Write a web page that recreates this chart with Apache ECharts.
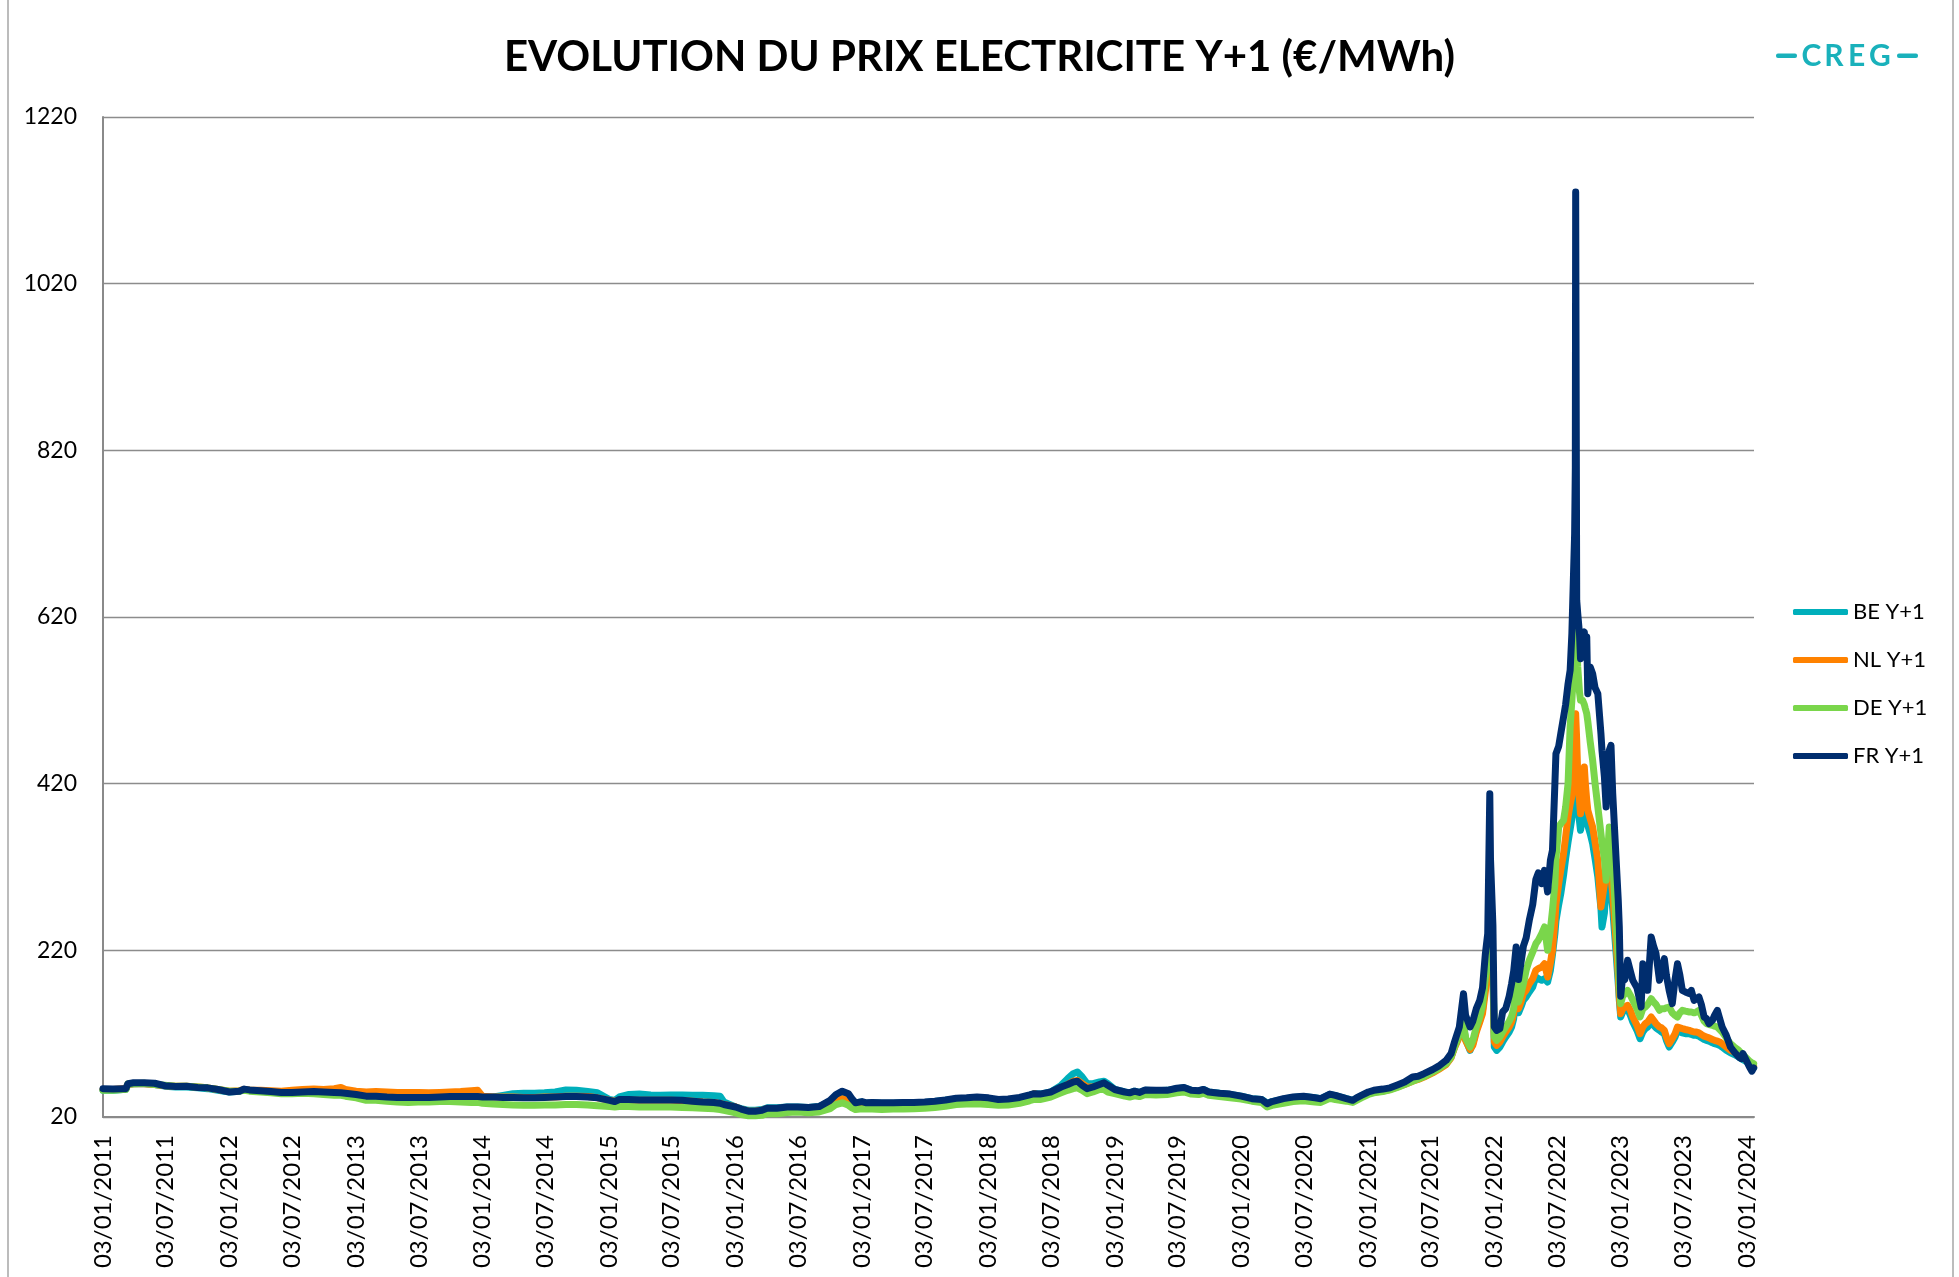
<!DOCTYPE html>
<html><head><meta charset="utf-8">
<script src="https://cdn.jsdelivr.net/npm/echarts@6/dist/echarts.min.js"></script>
<style>html,body{margin:0;padding:0;background:#fff}#c{width:1959px;height:1277px}</style>
</head><body><div id="c"></div><script>
// ---- Data ----
const titleText = 'EVOLUTION DU PRIX ELECTRICITE Y+1 (€/MWh)';
const seriesNames = ['BE Y+1', 'NL Y+1', 'DE Y+1', 'FR Y+1'];
const yTicks = [20, 220, 420, 620, 820, 1020, 1220];
const xTickLabels = ['03/01/2011','03/07/2011','03/01/2012','03/07/2012','03/01/2013','03/07/2013','03/01/2014','03/07/2014','03/01/2015','03/07/2015','03/01/2016','03/07/2016','03/01/2017','03/07/2017','03/01/2018','03/07/2018','03/01/2019','03/07/2019','03/01/2020','03/07/2020','03/01/2021','03/07/2021','03/01/2022','03/07/2022','03/01/2023','03/07/2023','03/01/2024'];

const dates = [
'2011-01-03','2011-02-01','2011-03-01','2011-03-10','2011-03-16','2011-04-01','2011-05-02','2011-06-01','2011-07-01','2011-08-01','2011-09-01','2011-10-03','2011-11-01','2011-12-01',
'2012-01-03','2012-02-01','2012-02-15','2012-03-01','2012-04-02','2012-05-02','2012-06-01','2012-07-02','2012-08-01','2012-09-03','2012-10-01','2012-11-01','2012-11-20','2012-12-03',
'2013-01-03','2013-02-01','2013-03-01','2013-04-02','2013-05-02','2013-06-03','2013-07-01','2013-08-01','2013-09-02','2013-10-01','2013-11-01','2013-12-02','2013-12-20',
'2014-01-03','2014-02-03','2014-03-03','2014-04-01','2014-05-02','2014-06-02','2014-07-01','2014-08-01','2014-09-01','2014-10-01','2014-11-03','2014-12-01',
'2015-01-05','2015-01-20','2015-02-02','2015-03-02','2015-04-01','2015-05-04','2015-06-01','2015-07-01','2015-08-03','2015-09-01','2015-10-01','2015-11-02','2015-11-20','2015-12-01',
'2016-01-04','2016-01-20','2016-02-10','2016-03-01','2016-03-20','2016-04-04','2016-05-02','2016-06-01','2016-07-01','2016-08-01','2016-09-01','2016-10-03','2016-10-20','2016-11-07','2016-11-25','2016-12-05','2016-12-15',
'2017-01-03','2017-01-16','2017-02-01','2017-03-01','2017-04-03','2017-05-02','2017-06-01','2017-07-03','2017-08-01','2017-09-01','2017-10-02','2017-11-01','2017-12-01',
'2018-01-03','2018-02-01','2018-03-01','2018-04-03','2018-05-02','2018-05-15','2018-06-01','2018-07-02','2018-08-01','2018-08-20','2018-09-05','2018-09-17','2018-10-01','2018-10-15','2018-11-01','2018-11-20','2018-12-03','2018-12-14',
'2019-01-03','2019-02-01','2019-02-15','2019-03-01','2019-03-15','2019-04-01','2019-05-02','2019-06-03','2019-07-01','2019-07-22','2019-08-12','2019-09-02','2019-09-16','2019-10-01','2019-11-01','2019-12-02',
'2020-01-03','2020-02-03','2020-03-02','2020-03-18','2020-04-01','2020-05-04','2020-06-01','2020-07-01','2020-08-03','2020-08-20','2020-09-15','2020-10-01','2020-11-02','2020-11-20','2020-12-01','2020-12-15',
'2021-01-04','2021-01-20','2021-02-15','2021-03-08','2021-03-29','2021-04-19','2021-05-12','2021-05-28','2021-06-14','2021-07-09','2021-07-26','2021-08-17','2021-08-31','2021-09-10','2021-09-24','2021-10-06','2021-10-12','2021-10-25','2021-11-02','2021-11-12','2021-11-22','2021-11-30','2021-12-08','2021-12-15','2021-12-21','2021-12-23','2021-12-30',
'2022-01-03','2022-01-10','2022-01-19','2022-01-27','2022-02-05','2022-02-15','2022-02-22','2022-02-28','2022-03-07','2022-03-14','2022-03-21','2022-03-28','2022-04-05','2022-04-14','2022-04-24','2022-05-03','2022-05-10','2022-05-20','2022-05-28','2022-06-06','2022-06-14','2022-06-20','2022-06-27','2022-06-30','2022-07-08','2022-07-14','2022-07-22','2022-07-28','2022-08-04','2022-08-10','2022-08-15','2022-08-19','2022-08-23','2022-08-25','2022-08-26','2022-08-29','2022-09-01','2022-09-06','2022-09-09','2022-09-15','2022-09-20','2022-09-23','2022-09-27','2022-09-30','2022-10-07','2022-10-14','2022-10-21','2022-10-29','2022-11-07','2022-11-10','2022-11-17','2022-11-22','2022-11-27','2022-12-01','2022-12-06','2022-12-11','2022-12-21','2022-12-27','2022-12-30',
'2023-01-03','2023-01-09','2023-01-15','2023-01-23','2023-01-31','2023-02-07','2023-02-19','2023-02-28','2023-03-03','2023-03-08','2023-03-15','2023-03-22','2023-04-01','2023-04-08','2023-04-15','2023-04-25','2023-05-01','2023-05-09','2023-05-15','2023-05-23','2023-06-01','2023-06-09','2023-06-16','2023-06-23','2023-06-30','2023-07-09','2023-07-20','2023-07-26','2023-08-03','2023-08-10','2023-08-17','2023-08-24','2023-09-01','2023-09-08','2023-09-15','2023-09-25','2023-10-01','2023-10-09','2023-10-16','2023-10-23','2023-11-04','2023-11-16','2023-11-27','2023-12-10','2023-12-17','2023-12-22','2024-01-03','2024-01-10','2024-01-17','2024-01-22'
];

const beY1 = [
52,52,53,53,59,60,60,59,57,56,56,55,54,52,
50,51,53,52,51,50,49,49.5,50,50.5,50,49.5,49,48.5,
47,45.5,45,44,43.5,43.5,43.5,43.5,44,44.5,44.5,44.5,44.5,
44,44,46,48,48.5,48.5,49,50,52.5,52,50.5,49,
41,40,44,47,47.5,46.5,46,46.5,46.5,46,46,45.5,45,38,
32,30,28,28,29,31,31,32,32,31.5,32.5,38,44,47,44,40,37,
38,36.5,37,36.5,36.5,37,37,37.5,38.5,40,41.5,42,42.5,
42,40,40.5,42.5,46,48,47.5,50,58,66,72,74,68,60,60,62,63,60,
53,50,49,51,49.5,52,51.5,52,54,55,52,51,53,50,48.5,47,
45,42,41,36.5,38.5,41.5,43.5,44.5,43,42,47,45.5,42,40,42.5,45.5,
49,51,52,54,57,60,64,66,69,74,78,84,92,104,118,130,113,100,108,124,136,148,178,205,228,220,200,
104,100,104,110,116,122,128,138,172,145,152,160,164,170,176,188,186,184,186,182,196,215,240,255,275,288,310,330,350,365,378,388,430,460,480,440,400,375,364,380,390,392,380,370,360,348,330,308,270,248,265,296,298,300,290,270,215,180,160,
140,146,148,150,142,134,124,114,116,122,126,128,134,130,127,124,122,120,112,104,110,116,124,122,121,120,120,119,118,118,117,115,113,112,111,109,108,107,106,104,100,97,95,92,90,90,86,82,78,79
];

const nlY1 = [
53,53,54,54,59,60,60,59,57.5,57,57,56,55,53,
51,51.5,53,52.5,52,51.5,51,52,53,53.5,53,54,55.5,53,
51,50,50.5,50,49.5,49.5,49.5,49,49.5,50,50.5,51.5,52,
45,44,44,44,43.5,43.5,44,44,45,45,44.5,43,
40,39,40,40,40,40,40,40,39.5,39,38,37.5,36,35,
32,29,27,27,28,30,30,31,31.5,31,31.5,36,40,42,40,36,34,
34.5,33.5,34,33.5,34,34,34.5,35,36,37.5,39,39.5,40,
39.5,38,38.5,40.5,44,48,45.5,48,54,59,63,64,60,56,56,58,59,56,
51,48,47.5,49,48,50.5,50,50.5,52.5,53.5,51,50,52,49,47.5,46,
44,41,40,35,37,39.5,41,42,40.5,39.5,44.5,43,40.5,39,41.5,44.5,
48,50,51,53,56,59,63,65,68,73,77,83,91,103,116,128,112,101,106,122,134,144,170,196,218,210,190,
110,106,110,116,122,128,134,144,176,150,158,168,172,180,186,196,198,200,204,188,205,220,255,275,300,316,336,356,380,395,405,416,460,490,504,472,430,400,384,420,440,420,400,388,378,368,350,328,272,280,300,316,318,320,308,288,228,190,165,
144,150,152,154,148,140,130,120,122,128,132,134,140,136,132,128,127,124,116,108,114,120,128,127,126,125,124,123,122,122,121,119,117,116,115,113,112,111,110,108,104,100,98,94,92,92,88,84,80,81
];

const deY1 = [
52,52,53,53,60,60,60.5,59,58,57,57,56,55,53,
51,51,52,51,50,49,48,48,48.5,48,47,46,46,45,
43,40,40,39,38,37.5,38,38,38.5,38.5,38,37.5,37.5,
36.5,35.5,35,34.5,34,34,34.5,34.5,35,35,34.5,33.5,
32.5,32,32.5,32.5,32,32,32,32,31.5,31,30.5,30,29,28,
25,23,21.5,21.5,22,24,24,25.5,26,25,26,30,35,37,34,31,29,
30,29.5,29.5,29,29.5,29.5,30,30.5,31.5,33,35,35.5,36,
35,34,34.5,36.5,39.5,41,41,44,49,52,54,55,52,48,50,53,53,50,
48,45,44,45.5,44.5,47,46.5,47,49,50,47.5,47,48.5,46,44.5,43,
41.5,39,37.5,32,34,36.5,38.5,39.5,38,37.5,42.5,41,39,37.5,40,43,
47,49,50.5,52.5,55.5,59,63,65.5,68.5,74,78,84,92,104,119,132,115,104,112,128,140,154,186,212,235,226,205,
116,112,116,122,128,135,141,150,184,158,168,180,196,208,218,228,232,240,248,220,245,268,300,330,368,372,376,392,420,488,520,548,580,600,610,590,560,530,520,520,515,510,504,495,470,448,420,392,360,349,330,304,340,368,360,328,248,210,180,
156,165,168,172,166,160,150,140,142,150,152,155,162,158,155,148,150,150,151,152,145,142,140,145,148,147,146,146,145,146,148,142,135,132,131,130,129,128,125,122,115,108,104,100,97,97,90,87,85,84
];

const frY1 = [
54,53.5,54,54,60,61,61,60.5,57.5,56.5,57,55.5,55,53,
50,51,53.5,52.5,51.5,50.5,49.5,49.5,50,50.5,50,49.5,49,48.5,
47,45,45,44,43.5,43.5,43.5,43.5,44,44.5,44.5,44.5,44.5,
44,44,43.5,43.5,43,43,43.5,44,44.5,44.5,44,43,
40,38.5,41,41,40.5,40.5,40.5,40.5,40,39,38,37.5,36.5,35,
32,29.5,27,27,28,30.5,30.5,32,32,31.5,32.5,40,47,51,48,42,37,
38.5,37,37.5,37,37,37.5,37.5,38,39,40.5,42.5,43,44,
43,41,41.5,43.5,46.5,48,47.5,50,56,59,62,63,58,54,56,59,61,58,
53,50,49,51,49.5,52.5,52,52,54.5,55.5,52,51.5,53,50,48.5,47.5,
45,42,41,36,38.5,42,44,45,43,42,47.5,46,42,40,43,46,
50,52,53.5,55,58.5,62,68,69,72,77,81,88,96,110,128,168,142,128,135,150,160,175,215,240,408,330,250,
128,124,126,146,150,165,180,195,224,185,205,225,235,256,275,305,313,300,316,290,328,340,420,456,465,480,500,515,540,556,600,660,720,800,1130,640,624,600,570,598,602,580,596,528,560,552,535,528,480,460,428,392,452,460,466,408,328,280,248,
165,190,185,208,195,184,175,158,152,204,190,172,236,225,216,184,195,210,190,172,156,185,204,190,172,170,168,172,160,162,164,155,140,138,132,136,142,148,138,128,118,104,98,92,90,96,86,80,75,79
];

// ---- Chart ----
const seriesValues = [beY1, nlY1, deY1, frY1];
const seriesColors = ['#00AFBB', '#FF8200', '#7AD64B', '#002D6E'];
const FONT = 'Lato, "Liberation Sans", sans-serif';
const pad = n => (n < 10 ? '0' : '') + n;
const parseDMY = s => { const p = s.split('/').map(Number); return new Date(p[2], p[1] - 1, p[0]).getTime(); };
const parseISO = s => { const p = s.split('-').map(Number); return new Date(p[0], p[1] - 1, p[2]).getTime(); };
const xTickValues = xTickLabels.map(parseDMY);
const dateStamps = dates.map(parseISO);

const chart = echarts.init(document.getElementById('c'), null, { renderer: 'canvas' });
chart.setOption({
  animation: false,
  backgroundColor: '#ffffff',
  title: {
    text: titleText, left: 'center', top: 36, padding: 0,
    textStyle: { fontFamily: FONT, fontSize: 42, fontWeight: 'bold', color: '#000' }
  },
  legend: {
    orient: 'vertical', left: 1788, top: 596, itemWidth: 55, itemHeight: 6, itemGap: 26,
    icon: 'roundRect', data: seriesNames,
    textStyle: { fontFamily: FONT, fontSize: 22, color: '#000' }
  },
  grid: { left: 103, right: 205, top: 117, bottom: 160, containLabel: false },
  xAxis: {
    type: 'value',
    min: new Date(2011, 0, 3).getTime(),
    max: new Date(2024, 0, 23).getTime(),
    axisLine: { show: true, onZero: false, lineStyle: { color: '#8a8a8a', width: 2 } },
    axisTick: { show: false },
    splitLine: { show: false },
    axisLabel: {
      customValues: xTickValues,
      rotate: 90, margin: 18, color: '#000', fontFamily: FONT, fontSize: 24,
      formatter: v => { const d = new Date(v); return pad(d.getDate()) + '/' + pad(d.getMonth() + 1) + '/' + d.getFullYear(); }
    }
  },
  yAxis: {
    type: 'value', min: yTicks[0], max: yTicks[yTicks.length - 1], interval: yTicks[1] - yTicks[0],
    axisLine: { show: true, lineStyle: { color: '#8a8a8a', width: 2 } },
    axisTick: { show: false },
    splitLine: { show: true, lineStyle: { color: '#8c8c8c', width: 1.3 } },
    axisLabel: { margin: 26, color: '#000', fontFamily: FONT, fontSize: 23, formatter: v => String(v) }
  },
  series: seriesNames.map((name, k) => ({
    name, type: 'line', showSymbol: false, symbol: 'none',
    data: dateStamps.map((t, i) => [t, seriesValues[k][i]]),
    itemStyle: { color: seriesColors[k] },
    lineStyle: { color: seriesColors[k], width: 7, cap: 'round', join: 'round' },
    z: 2 + k
  })),
  graphic: [
    { type: 'line', shape: { x1: 8, y1: 0, x2: 8, y2: 1277 }, style: { stroke: '#a6a6a6', lineWidth: 1.5 }, silent: true },
    { type: 'line', shape: { x1: 1953, y1: 0, x2: 1953, y2: 1277 }, style: { stroke: '#a6a6a6', lineWidth: 1.5 }, silent: true },
    { type: 'rect', shape: { x: 1776, y: 53.5, width: 21, height: 4.5, r: 2 }, style: { fill: '#19B1BB' }, silent: true },
    { type: 'rect', shape: { x: 1897, y: 53.5, width: 21, height: 4.5, r: 2 }, style: { fill: '#19B1BB' }, silent: true },
    { type: 'text', x: 1811.5, y: 56, style: { text: 'C', font: 'bold 30px ' + FONT, fill: '#19B1BB', align: 'center', verticalAlign: 'middle' }, silent: true },
    { type: 'text', x: 1834, y: 56, style: { text: 'R', font: 'bold 30px ' + FONT, fill: '#19B1BB', align: 'center', verticalAlign: 'middle' }, silent: true },
    { type: 'text', x: 1856.5, y: 56, style: { text: 'E', font: 'bold 30px ' + FONT, fill: '#19B1BB', align: 'center', verticalAlign: 'middle' }, silent: true },
    { type: 'text', x: 1880, y: 56, style: { text: 'G', font: 'bold 30px ' + FONT, fill: '#19B1BB', align: 'center', verticalAlign: 'middle' }, silent: true }
  ]
});
</script></body></html>
